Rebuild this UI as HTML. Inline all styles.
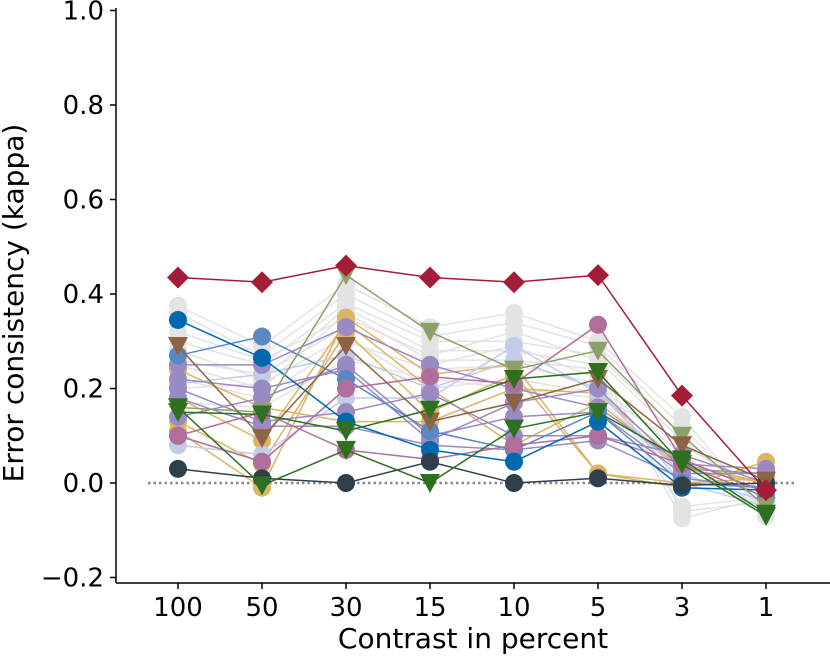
<!DOCTYPE html>
<html><head><meta charset="utf-8"><style>body{margin:0;background:#fff}svg{display:block;font-family:"DejaVu Sans","Liberation Sans",sans-serif}</style></head>
<body>
<svg id="c" width="830" height="656"></svg>
<script>
const categories=["100","50","30","15","10","5","3","1"];
const yTicks=[-0.2,0.0,0.2,0.4,0.6,0.8,1.0];
const grayValues=[
[0.375,0.29,0.42,0.33,0.36,0.3,0.14,-0.07],[0.36,0.27,0.4,0.31,0.34,0.29,0.12,-0.06],
[0.3,0.25,0.38,0.3,0.3,0.27,0.1,-0.05],[0.28,0.22,0.37,0.28,0.28,0.25,-0.06,-0.04],
[0.25,0.2,0.36,0.26,0.26,0.24,-0.075,-0.03],[0.22,0.18,0.3,0.24,0.25,0.21,0.06,-0.06],
[0.2,0.21,0.31,0.2,0.22,0.19,0.08,-0.02],[0.17,0.16,0.26,0.22,0.2,0.18,0.02,-0.05],
[0.32,0.26,0.35,0.27,0.32,0.26,0.09,-0.04],[0.26,0.23,0.33,0.25,0.29,0.22,-0.05,-0.03]];
const goldValues=[[0.11,-0.01,0.35,0.23,0.25,0.02,-0.01,0.045],[0.18,0.09,0.34,0.2,0.08,0.17,0.03,0.0],[0.24,0.16,0.13,0.13,0.2,0.19,0.04,0.0],[0.13,0.04,0.32,0.15,0.23,0.02,0.0,0.01]];
const purpleValues=[[0.25,0.25,0.33,0.25,0.2,0.16,0.04,0.03],[0.22,0.2,0.24,0.09,0.17,0.2,0.03,0.02],[0.2,0.13,0.15,0.19,0.1,0.1,0.06,0.0],[0.18,0.12,0.12,0.08,0.07,0.09,0.01,-0.01],[0.14,0.18,0.25,0.1,0.14,0.15,0.02,0.02]];
const lightBlueValues=[[0.08,0.06,0.18,0.18,0.29,0.19,0.02,-0.04],[0.21,0.23,0.27,0.2,0.26,0.2,0.0,-0.05]];
const steelBlue=[0.27,0.31,0.22,0.11,0.07,0.15,0.0,-0.01];
const blue=[0.345,0.265,0.13,0.07,0.045,0.13,-0.01,-0.015];
const pink1=[0.1,0.045,0.2,0.225,0.21,0.335,0.05,-0.02];
const pink2=[0.1,0.15,0.07,0.05,0.08,0.1,0.04,-0.03];
const slate=[0.03,0.01,0.0,0.045,0.0,0.01,-0.005,0.0];
const olive=[0.16,0.15,0.44,0.32,0.24,0.28,0.1,-0.05];
const brown=[0.29,0.095,0.29,0.13,0.17,0.22,0.08,0.005];
const green1=[0.15,0.145,0.11,0.155,0.22,0.235,0.04,-0.07];
const green2=[0.16,-0.005,0.07,0.0,0.115,0.15,0.05,-0.065];
const red=[0.435,0.425,0.46,0.435,0.425,0.44,0.185,-0.015];

const svg=document.getElementById('c'),NS='http://www.w3.org/2000/svg';
const X=i=>178+i*84.0, Y=v=>483-v*472.5;
function mk(t,a,p){const e=document.createElementNS(NS,t);for(const k in a)e.setAttribute(k,a[k]);(p||svg).appendChild(e);return e;}
function series(vals,color,marker,name,lineColor){
  const g=mk('g',{});
  
  
  mk('polyline',{points:vals.map((v,i)=>X(i)+','+Y(v)).join(' '),fill:'none',stroke:lineColor||color,'stroke-width':1.5},g);
  vals.forEach((v,i)=>{const x=X(i),y=Y(v);let m;
    if(marker==='o')m=mk('circle',{cx:x,cy:y,r:9,fill:color},g);
    else if(marker==='v')m=mk('polygon',{points:`${x-10},${y-9} ${x+10},${y-9} ${x},${y+10}`,fill:color},g);
    else m=mk('polygon',{points:`${x},${y-11} ${x+11},${y} ${x},${y+11} ${x-11},${y}`,fill:color},g);
    
    
  });
}
const z=mk('line',{x1:148,x2:797,y1:Y(0),y2:Y(0),stroke:'#888','stroke-width':2.5,'stroke-dasharray':'2.5,3'});


grayValues.forEach(v=>series(v,'#e3e3e3','o','gray-series'));
goldValues.forEach(v=>series(v,'#dcb464','o','gold-series'));
lightBlueValues.forEach(v=>series(v,'#c2cce6','o','lightblue-series'));
purpleValues.forEach(v=>series(v,'#9a8ac4','o','purple-series'));
series(steelBlue,'#5a88c0','o','steelblue-series');
series(pink2,'#b06e9a','o','pink-series-2');
series(pink1,'#b06e9a','o','pink-series-1');
series(blue,'#0068ad','o','blue-series');
series(slate,'#2f3f4c','o','slate-series');
series(olive,'#8ea06a','v','olive-series');
series(brown,'#8c6444','v','brown-series');
series(green2,'#2e7020','v','green-series-2');
series(green1,'#2e7020','v','green-series-1');
series(red,'#a51c36','d','red-series');
const ax=mk('g',{});


mk('line',{x1:116,x2:116,y1:8,y2:583,stroke:'#000','stroke-width':1.5},ax);
mk('line',{x1:116,x2:830,y1:583,y2:583,stroke:'#000','stroke-width':1.5},ax);
yTicks.forEach(t=>{const y=Y(t);mk('line',{x1:110,x2:116,y1:y,y2:y,stroke:'#000','stroke-width':1.5},ax);
  const tx=mk('text',{x:104,y:y+9,'text-anchor':'end','font-size':26},ax);tx.textContent=(t<0?'\u22120.2':t.toFixed(1));
  
  });
categories.forEach((c,i)=>{const x=X(i);mk('line',{x1:x,x2:x,y1:583,y2:589,stroke:'#000','stroke-width':1.5},ax);
  const tx=mk('text',{x:x,y:616,'text-anchor':'middle','font-size':26},ax);tx.textContent=c;
  
  });
const xl=mk('text',{x:473,y:648,'text-anchor':'middle','font-size':28});xl.textContent='Contrast in percent';


const yl=mk('text',{x:0,y:0,'text-anchor':'middle','font-size':28,transform:'translate(23,303) rotate(-90)'});yl.textContent='Error consistency (kappa)';


</script>
</body></html>
